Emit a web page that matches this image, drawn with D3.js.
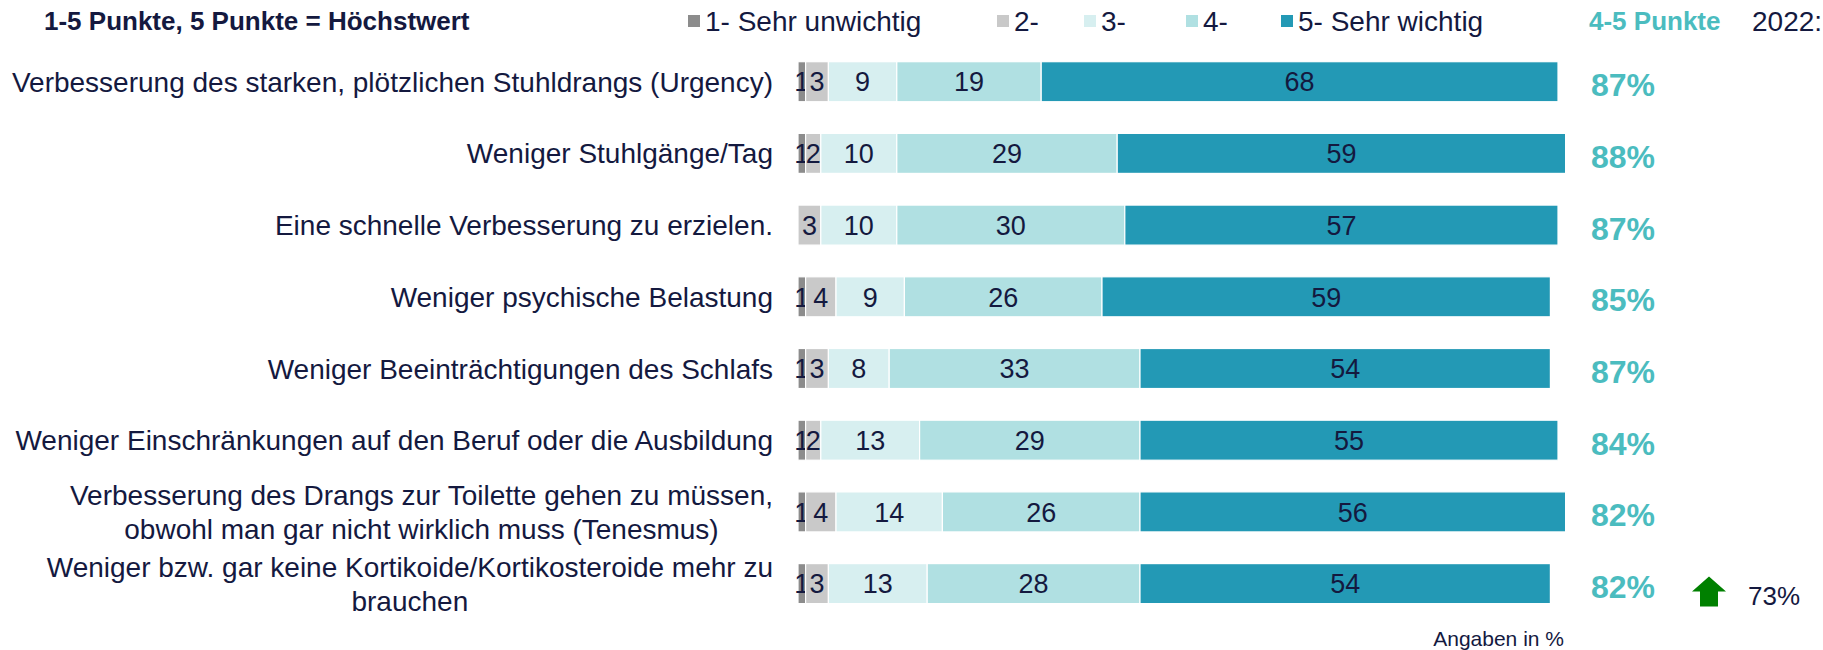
<!DOCTYPE html>
<html>
<head>
<meta charset="utf-8">
<script src="https://cdn.jsdelivr.net/npm/d3@7"></script>
<style>
  html, body { margin: 0; padding: 0; background: #ffffff; }
  svg { display: block; }
  text { font-family: "Liberation Sans", Arial, sans-serif; }
</style>
</head>
<body>
<svg id="chart" width="1823" height="650"></svg>
<script>
// ---- data ----
const categories = [
  "Verbesserung des starken, plötzlichen Stuhldrangs (Urgency)",
  "Weniger Stuhlgänge/Tag",
  "Eine schnelle Verbesserung zu erzielen.",
  "Weniger psychische Belastung",
  "Weniger Beeinträchtigungen des Schlafs",
  "Weniger Einschränkungen auf den Beruf oder die Ausbildung",
  "Verbesserung des Drangs zur Toilette gehen zu müssen,\nobwohl man gar nicht wirklich muss (Tenesmus)",
  "Weniger bzw. gar keine Kortikoide/Kortikosteroide mehr zu\nbrauchen"
];
const seriesNames = ["1- Sehr unwichtig", "2-", "3-", "4-", "5- Sehr wichtig"];
const s1 = [1, 1, 0, 1, 1, 1, 1, 1];
const s2 = [3, 2, 3, 4, 3, 2, 4, 3];
const s3 = [9, 10, 10, 9, 8, 13, 14, 13];
const s4 = [19, 29, 30, 26, 33, 29, 26, 28];
const s5 = [68, 59, 57, 59, 54, 55, 56, 54];
const top2 = ["87%", "88%", "87%", "85%", "87%", "84%", "82%", "82%"];
const headerTitle = "1-5 Punkte, 5 Punkte = Höchstwert";
const top2Title = "4-5 Punkte";
const prevTitle = "2022:";
const prevValue = "73%";       // shown for the last row, trend up
const footnote = "Angaben in %";

// ---- styles ----
const colors = ["#8c8c8c", "#c9c9c9", "#d7eff0", "#b0e0e2", "#2399b5"];
const textColor = "#14193f";
const teal = "#4bbcbf";

const svg = d3.select("#chart");

const rows = categories.map((c, i) => ({ cat: c, vals: [s1[i], s2[i], s3[i], s4[i], s5[i]] }));
const stack = d3.stack().keys([0,1,2,3,4]).value((d, k) => d.vals[k]);
const stacked = stack(rows);

const x = d3.scaleLinear().domain([0, 100]).range([798, 1558]);
const y = d3.scaleBand().domain(categories).range([45.85, 619.45]).paddingInner(0.442).paddingOuter(0.221);

// bars
const layers = svg.append("g").selectAll("g").data(stacked).join("g")
  .attr("fill", (d, i) => colors[i]);
layers.selectAll("rect").data(d => d.map(v => ({ v, key: d.key })))
  .join("rect")
  .attr("x", d => x(d.v[0]))
  .attr("y", d => y(d.v.data.cat))
  .attr("width", d => Math.max(0, x(d.v[1]) - x(d.v[0])))
  .attr("height", y.bandwidth())
  .attr("stroke", "#ffffff")
  .attr("stroke-width", 1.2);

// value labels
layers.selectAll("text").data(d => d.map(v => ({ v, key: d.key })).filter(d => d.v[1] - d.v[0] > 0))
  .join("text")
  .attr("x", d => (x(d.v[0]) + x(d.v[1])) / 2)
  .attr("y", d => y(d.v.data.cat) + y.bandwidth() / 2)
  .attr("dy", "0.36em")
  .attr("text-anchor", "middle")
  .attr("font-size", 27)
  .attr("fill", textColor)
  .text(d => d.v[1] - d.v[0]);

// category labels (multi-line centered block, right edge aligned)
const labelRight = 773;
const catG = svg.append("g");
categories.forEach(c => {
  const lines = c.split("\n");
  const cy = y(c) + y.bandwidth() / 2;
  const lh = 34;
  const g = catG.append("g");
  const texts = lines.map((ln, j) => g.append("text")
    .attr("y", cy + (j - (lines.length - 1) / 2) * lh)
    .attr("dy", "0.36em")
    .attr("font-size", 28)
    .attr("fill", textColor)
    .text(ln));
  const widths = texts.map(t => t.node().getComputedTextLength());
  const maxW = d3.max(widths);
  if (lines.length === 1) {
    texts[0].attr("x", labelRight).attr("text-anchor", "end");
  } else {
    texts.forEach(t => t.attr("x", labelRight - maxW / 2).attr("text-anchor", "middle"));
  }
});

// top-2 percentages
svg.append("g").selectAll("text").data(categories).join("text")
  .attr("x", 1591)
  .attr("y", (c) => y(c) + y.bandwidth() / 2 + 3)
  .attr("dy", "0.36em")
  .attr("font-size", 32)
  .attr("font-weight", "bold")
  .attr("fill", teal)
  .text((c, i) => top2[i]);

// header
const headY = 21;
svg.append("text").attr("x", 44).attr("y", headY).attr("dy", "0.36em")
  .attr("font-size", 26).attr("font-weight", "bold").attr("fill", textColor)
  .text(headerTitle);

// legend
const legendX = [688, 997, 1084, 1186, 1281];
const lg = svg.append("g").selectAll("g").data(seriesNames).join("g")
  .attr("transform", (d, i) => `translate(${legendX[i]},${headY})`);
lg.append("rect").attr("x", 0).attr("y", -6).attr("width", 12).attr("height", 12)
  .attr("fill", (d, i) => colors[i]);
lg.append("text").attr("x", 17).attr("y", 0).attr("dy", "0.36em")
  .attr("font-size", 28).attr("fill", textColor).text(d => d);

svg.append("text").attr("x", 1589).attr("y", headY).attr("dy", "0.36em")
  .attr("font-size", 26).attr("font-weight", "bold").attr("fill", teal).text(top2Title);
svg.append("text").attr("x", 1752).attr("y", headY).attr("dy", "0.36em")
  .attr("font-size", 28).attr("fill", textColor).text(prevTitle);

// previous-year comparison for last row
const lastCy = y(categories[categories.length - 1]) + y.bandwidth() / 2;
const ax = 1709, ay = lastCy + 10;
svg.append("path")
  .attr("d", `M${ax},${ay - 17} L${ax + 17},${ay - 2} L${ax + 9},${ay - 2} L${ax + 9},${ay + 13} L${ax - 9},${ay + 13} L${ax - 9},${ay - 2} L${ax - 17},${ay - 2} Z`)
  .attr("fill", "#008000");
svg.append("text").attr("x", 1748).attr("y", lastCy + 12).attr("dy", "0.36em")
  .attr("font-size", 26).attr("fill", textColor).text(prevValue);

// footnote
svg.append("text").attr("x", 1564).attr("y", 638).attr("dy", "0.36em")
  .attr("text-anchor", "end").attr("font-size", 21).attr("fill", textColor).text(footnote);
</script>
</body>
</html>
